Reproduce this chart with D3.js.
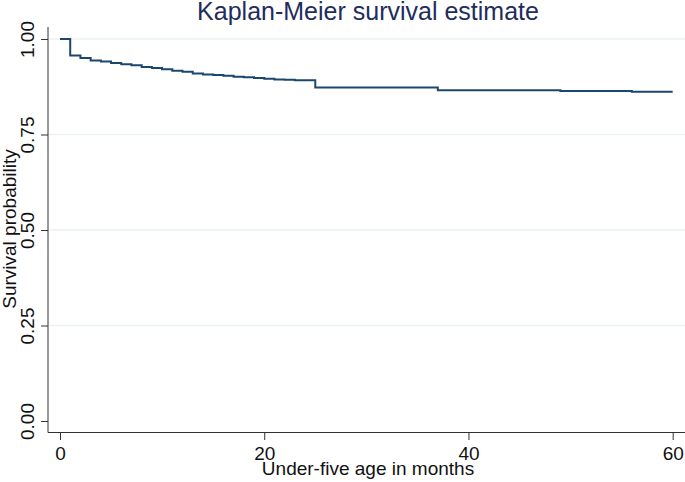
<!DOCTYPE html>
<html>
<head>
<meta charset="utf-8">
<script src="https://cdn.jsdelivr.net/npm/d3@7"></script>
<style>
  html, body { margin: 0; padding: 0; background: #fff; }
  svg { display: block; font-family: "Liberation Sans", Arial, sans-serif; }
</style>
</head>
<body>
<svg id="chart" width="685" height="482"></svg>
<script>
// Kaplan-Meier step data (time in months, survival probability)
const times = [0, 1, 2, 3, 4, 5, 6, 7, 8, 9, 10, 11, 12, 13, 14, 15, 16, 17, 18, 19, 20, 21, 22, 23, 24, 25, 37, 49, 56, 60];
const survival = [1.0, 0.957, 0.950, 0.944, 0.941, 0.937, 0.934, 0.931, 0.927, 0.924, 0.921, 0.917, 0.914, 0.910, 0.907, 0.906, 0.904, 0.901, 0.900, 0.898, 0.896, 0.894, 0.893, 0.892, 0.892, 0.873, 0.866, 0.864, 0.862, 0.862];
const xTicks = [0, 20, 40, 60];
const yTicks = [0, 0.25, 0.5, 0.75, 1];
const titleText = "Kaplan-Meier survival estimate";
const xLabel = "Under-five age in months";
const yLabel = "Survival probability";

const svg = d3.select("#chart");
const x = d3.scaleLinear().domain([0, 60]).range([60, 672.7]);
const y = d3.scaleLinear().domain([0, 1]).range([421, 39]);

const axisColor = "#333";
const plotLeft = 48, plotRight = 685, plotBottom = 432.5, plotTop = 27;

// gridlines
svg.append("g").selectAll("line")
  .data(yTicks.filter(d => d > 0))
  .join("line")
  .attr("x1", plotLeft + 1).attr("x2", plotRight)
  .attr("y1", d => y(d)).attr("y2", d => y(d))
  .attr("stroke", "#eaf2f3").attr("stroke-width", 1.3);

// axis lines
svg.append("line").attr("x1", plotLeft).attr("x2", plotLeft)
  .attr("y1", plotTop).attr("y2", plotBottom)
  .attr("stroke", axisColor).attr("stroke-width", 1);
svg.append("line").attr("x1", plotLeft).attr("x2", plotRight)
  .attr("y1", plotBottom).attr("y2", plotBottom)
  .attr("stroke", axisColor).attr("stroke-width", 1);

// x axis
const xAxis = svg.append("g")
  .attr("transform", `translate(0,${plotBottom})`)
  .call(d3.axisBottom(x).tickValues(xTicks).tickSize(7.5).tickPadding(4).tickFormat(d3.format("d")));
xAxis.select(".domain").remove();
xAxis.selectAll(".tick line").attr("stroke", axisColor);
xAxis.selectAll(".tick text")
  .attr("font-size", 19).attr("fill", "#111")
  .attr("font-family", '"Liberation Sans", Arial, sans-serif')
  .attr("dy", null).attr("y", 27.5);

// y axis
const yAxis = svg.append("g")
  .attr("transform", `translate(${plotLeft},0)`)
  .call(d3.axisLeft(y).tickValues(yTicks).tickSize(7).tickFormat(d3.format(".2f")));
yAxis.select(".domain").remove();
yAxis.selectAll(".tick line").attr("stroke", axisColor);
yAxis.selectAll(".tick text")
  .attr("font-size", 19).attr("fill", "#111")
  .attr("font-family", '"Liberation Sans", Arial, sans-serif')
  .attr("x", null).attr("dy", null)
  .attr("text-anchor", "middle")
  .attr("transform", "translate(-14.5,0) rotate(-90)");

// survival curve
const pts = times.map((t, i) => [t, survival[i]]);
const line = d3.line().x(d => x(d[0])).y(d => y(d[1])).curve(d3.curveStepAfter);
svg.append("path").datum(pts)
  .attr("d", line)
  .attr("fill", "none")
  .attr("stroke", "#1a476f")
  .attr("stroke-width", 2);

// title
svg.append("text")
  .attr("x", 368).attr("y", 19.5)
  .attr("text-anchor", "middle")
  .attr("font-size", 25)
  .attr("fill", "#1e2d5c")
  .text(titleText);

// axis titles
svg.append("text")
  .attr("x", 368).attr("y", 475)
  .attr("text-anchor", "middle")
  .attr("font-size", 19)
  .attr("fill", "#111")
  .text(xLabel);

svg.append("text")
  .attr("transform", `translate(15.5,229) rotate(-90)`)
  .attr("text-anchor", "middle")
  .attr("font-size", 19)
  .attr("fill", "#111")
  .text(yLabel);
</script>
</body>
</html>
